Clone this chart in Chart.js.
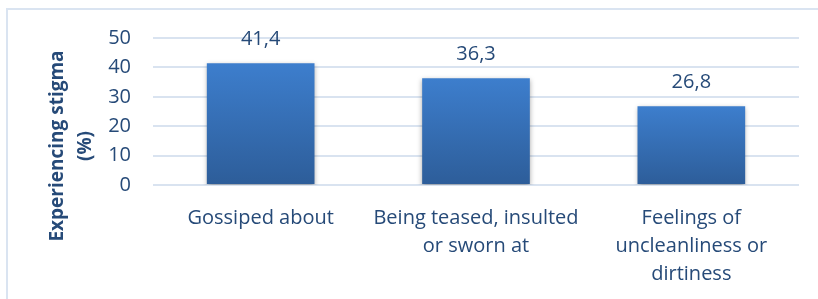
<!DOCTYPE html>
<html>
<head>
<meta charset="utf-8">
<script src="https://cdn.jsdelivr.net/npm/chart.js@4"></script>
<style>
  html, body { margin: 0; padding: 0; background: #fff; }
  #wrap { position: relative; width: 818px; height: 299px; overflow: hidden; }
  #frame { position: absolute; left: 6px; top: 8px; width: 900px; height: 400px;
           border-left: 2px solid #dae4f1; border-top: 2px solid #dae4f1; }
  canvas { position: absolute; left: 0; top: 0; }
</style>
</head>
<body>
<div id="wrap">
  <div id="frame"></div>
  <canvas id="chart" width="818" height="299"></canvas>
</div>
<script>
const categories = [
  ["Gossiped about"],
  ["Being teased, insulted", "or sworn at"],
  ["Feelings of", "uncleanliness or", "dirtiness"]
];
const stigmaValues = [41.4, 36.3, 26.8];
const yTicks = [0, 10, 20, 30, 40, 50];

const TEXT = "#264a78";
const FONT = "'Open Sans', sans-serif";

// vertical gradient for each bar, from its top down to the zero line
function barGradient(ctx) {
  const chart = ctx.chart;
  const y = chart.scales.y;
  const v = stigmaValues[ctx.dataIndex];
  if (!y || v === undefined) return "#3a76c2";
  const top = y.getPixelForValue(v);
  const bottom = y.getPixelForValue(0);
  if (!isFinite(top) || !isFinite(bottom) || top === bottom) return "#3a76c2";
  const g = chart.ctx.createLinearGradient(0, top, 0, bottom);
  g.addColorStop(0, "#3d7ecd");
  g.addColorStop(1, "#2d5d99");
  return g;
}

const barShadow = {
  id: "barShadow",
  beforeDatasetsDraw(chart) {
    const c = chart.ctx;
    c.save();
    c.shadowColor = "rgba(0,0,0,0.35)";
    c.shadowBlur = 5;
    c.shadowOffsetY = 2;
  },
  afterDatasetsDraw(chart) {
    chart.ctx.restore();
  }
};

const valueLabels = {
  id: "valueLabels",
  afterDatasetsDraw(chart) {
    const c = chart.ctx;
    const meta = chart.getDatasetMeta(0);
    c.save();
    c.fillStyle = TEXT;
    c.font = "20px " + FONT;
    c.textAlign = "center";
    c.textBaseline = "middle";
    meta.data.forEach((bar, i) => {
      c.fillText(String(stigmaValues[i]).replace(".", ","), bar.x, bar.y - 24);
    });
    c.restore();
  }
};

const yTitle = {
  id: "yTitle",
  afterDraw(chart) {
    const c = chart.ctx;
    c.save();
    c.fillStyle = TEXT;
    c.font = "bold 19px " + FONT;
    c.textAlign = "center";
    c.textBaseline = "middle";
    c.translate(72, 146);
    c.rotate(-Math.PI / 2);
    c.fillText("Experiencing stigma", 0, -14);
    c.fillText("(%)", 0, 14);
    c.restore();
  }
};

new Chart(document.getElementById("chart"), {
  type: "bar",
  data: {
    labels: categories,
    datasets: [{
      data: stigmaValues,
      backgroundColor: barGradient,
      borderWidth: 0,
      categoryPercentage: 1,
      barPercentage: 0.5
    }]
  },
  options: {
    responsive: false,
    animation: false,
    layout: { padding: { left: 0, right: 19, top: 38, bottom: 0 } },
    plugins: { legend: { display: false }, tooltip: { enabled: false } },
    scales: {
      x: {
        grid: { display: false },
        border: { display: false },
        ticks: {
          color: TEXT,
          font: { family: FONT, size: 20, lineHeight: 1.4 },
          padding: 11,
          maxRotation: 0,
          autoSkip: false
        },
        afterFit(scale) { scale.height = 114; }
      },
      y: {
        min: 0,
        max: 50,
        afterBuildTicks(scale) { scale.ticks = yTicks.map(v => ({ value: v })); },
        grid: { color: "#d9e3f0", lineWidth: 2, drawTicks: false },
        border: { display: false },
        ticks: {
          color: TEXT,
          font: { family: FONT, size: 20 },
          padding: 22
        },
        afterFit(scale) { scale.width = 153; }
      }
    }
  },
  plugins: [barShadow, valueLabels, yTitle]
});
</script>
</body>
</html>
